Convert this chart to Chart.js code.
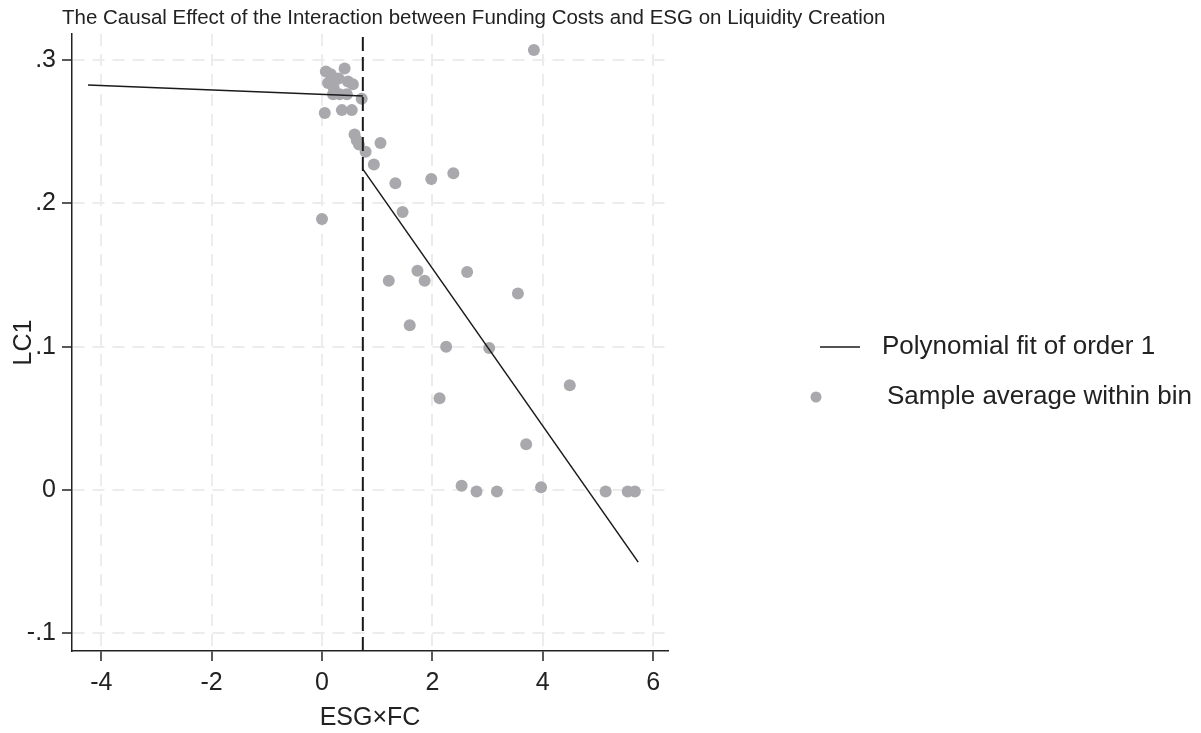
<!DOCTYPE html>
<html>
<head>
<meta charset="utf-8">
<title>ESG x FC and LC1</title>
<script src="https://cdn.jsdelivr.net/npm/chart.js@4.4.0/dist/chart.umd.min.js"></script>
<style>
  html, body { margin: 0; padding: 0; background: #fff; }
  #wrap { width: 1201px; height: 733px; }
</style>
</head>
<body>
<div id="wrap"><canvas id="myChart" width="1201" height="733"></canvas></div>
<script>
const titleText = 'The Causal Effect of the Interaction between Funding Costs and ESG on Liquidity Creation';
const legendLabels = ['Polynomial fit of order 1', 'Sample average within bin'];

// bin averages (ESG x FC, LC1)
const binX = [0.00, 0.05, 0.07, 0.11, 0.16, 0.20, 0.21, 0.30, 0.32, 0.36,
              0.41, 0.45, 0.47, 0.54, 0.56, 0.59, 0.63, 0.67, 0.72, 0.79,
              0.94, 1.06, 1.21, 1.33, 1.46, 1.59, 1.73, 1.86, 1.98, 2.13,
              2.25, 2.38, 2.53, 2.63, 2.80, 3.03, 3.17, 3.55, 3.70, 3.84,
              3.97, 4.49, 5.14, 5.54, 5.67];
const binY = [0.189, 0.263, 0.292, 0.284, 0.290, 0.276, 0.281, 0.287, 0.276, 0.265,
              0.294, 0.276, 0.285, 0.265, 0.283, 0.248, 0.244, 0.241, 0.273, 0.236,
              0.227, 0.242, 0.146, 0.214, 0.194, 0.115, 0.153, 0.146, 0.217, 0.064,
              0.100, 0.221, 0.003, 0.152, -0.001, 0.099, -0.001, 0.137, 0.032, 0.307,
              0.002, 0.073, -0.001, -0.001, -0.001];

// linear fits on each side of the cutoff
const cutoff = 0.74;
const fitLeftX = [-4.24, 0.74];
const fitLeftY = [0.2825, 0.2748];
const fitRightX = [0.74, 5.73];
const fitRightY = [0.2238, -0.0503];

const xTicks = [-4, -2, 0, 2, 4, 6];
const xTickLabels = ['-4', '-2', '0', '2', '4', '6'];
const yTicks = [-0.1, 0, 0.1, 0.2, 0.3];
const yTickLabels = ['-.1', '0', '.1', '.2', '.3'];

const xMin = -4.53, xMax = 6.27;
const yMin = -0.1123, yMax = 0.3181;

const fontFamily = '"Liberation Sans", Arial, sans-serif';
const textColor = '#222';
const axisColor = '#222';
const gridColor = '#ececec';
const dotColor = '#a9a9ad';
const lineColor = '#1a1a1a';

Chart.defaults.font.family = fontFamily;

const pts = (xs, ys) => xs.map((x, i) => ({ x: x, y: ys[i] }));

// title and legend drawn by hand
const extras = {
    id: 'extras',
    afterDraw(chart) {
        const c = chart.ctx;
        c.save();
        c.fillStyle = textColor;
        c.font = '20.5px ' + fontFamily;
        c.textBaseline = 'alphabetic';
        c.fillText(titleText, 62, 24);

        c.strokeStyle = lineColor;
        c.lineWidth = 1.5;
        c.beginPath();
        c.moveTo(820, 347);
        c.lineTo(860, 347);
        c.stroke();
        c.font = '26px ' + fontFamily;
        c.textBaseline = 'middle';
        c.fillText(legendLabels[0], 882, 347);

        c.fillStyle = dotColor;
        c.beginPath();
        c.arc(816, 397, 5.5, 0, Math.PI * 2);
        c.fill();
        c.fillStyle = textColor;
        c.fillText(legendLabels[1], 887, 397);
        c.restore();
    }
};

const ctx = document.getElementById('myChart').getContext('2d');
const chart = new Chart(ctx, {
    type: 'scatter',
    data: {
        datasets: [
            {
                label: legendLabels[0],
                data: pts(fitLeftX, fitLeftY),
                showLine: true,
                borderColor: lineColor,
                borderWidth: 1.5,
                pointRadius: 0
            },
            {
                label: legendLabels[0],
                data: pts(fitRightX, fitRightY),
                showLine: true,
                borderColor: lineColor,
                borderWidth: 1.5,
                pointRadius: 0
            },
            {
                label: 'cutoff',
                data: [{ x: cutoff, y: yMin }, { x: cutoff, y: yMax }],
                showLine: true,
                borderColor: lineColor,
                borderWidth: 2,
                borderDash: [14, 6],
                pointRadius: 0
            },
            {
                label: legendLabels[1],
                data: pts(binX, binY),
                backgroundColor: dotColor,
                borderColor: dotColor,
                borderWidth: 0,
                pointRadius: 6
            }
        ]
    },
    options: {
        responsive: false,
        animation: false,
        devicePixelRatio: 1,
        layout: { padding: { top: 34, right: 533, bottom: 0, left: 0 } },
        plugins: {
            legend: { display: false },
            tooltip: { enabled: false }
        },
        scales: {
            x: {
                type: 'linear',
                min: xMin,
                max: xMax,
                afterBuildTicks: (s) => { s.ticks = xTicks.map(v => ({ value: v })); },
                afterFit: (s) => { s.height = 82; },
                ticks: {
                    font: { size: 25 },
                    color: textColor,
                    padding: 7,
                    maxRotation: 0,
                    autoSkip: false,
                    callback: (v, i) => xTickLabels[i]
                },
                grid: { color: gridColor, lineWidth: 2, tickLength: 10, tickColor: axisColor, tickWidth: 1.5 },
                border: { display: true, color: axisColor, width: 1.5, dash: [12, 8] },
                title: { display: true, text: 'ESG×FC', font: { size: 25 }, color: textColor, padding: { top: 0, bottom: 0 } }
            },
            y: {
                type: 'linear',
                min: yMin,
                max: yMax,
                afterBuildTicks: (s) => { s.ticks = yTicks.map(v => ({ value: v })); },
                afterFit: (s) => { s.width = 72; },
                ticks: {
                    font: { size: 25 },
                    color: textColor,
                    padding: 6,
                    autoSkip: false,
                    callback: (v, i) => yTickLabels[i]
                },
                grid: { color: gridColor, lineWidth: 2, tickLength: 10, tickColor: axisColor, tickWidth: 1.5 },
                border: { display: true, color: axisColor, width: 1.5, dash: [12, 8] },
                title: { display: true, text: 'LC1', font: { size: 25 }, color: textColor, padding: { top: 9, bottom: 0 } }
            }
        }
    },
    plugins: [extras]
});
</script>
</body>
</html>
